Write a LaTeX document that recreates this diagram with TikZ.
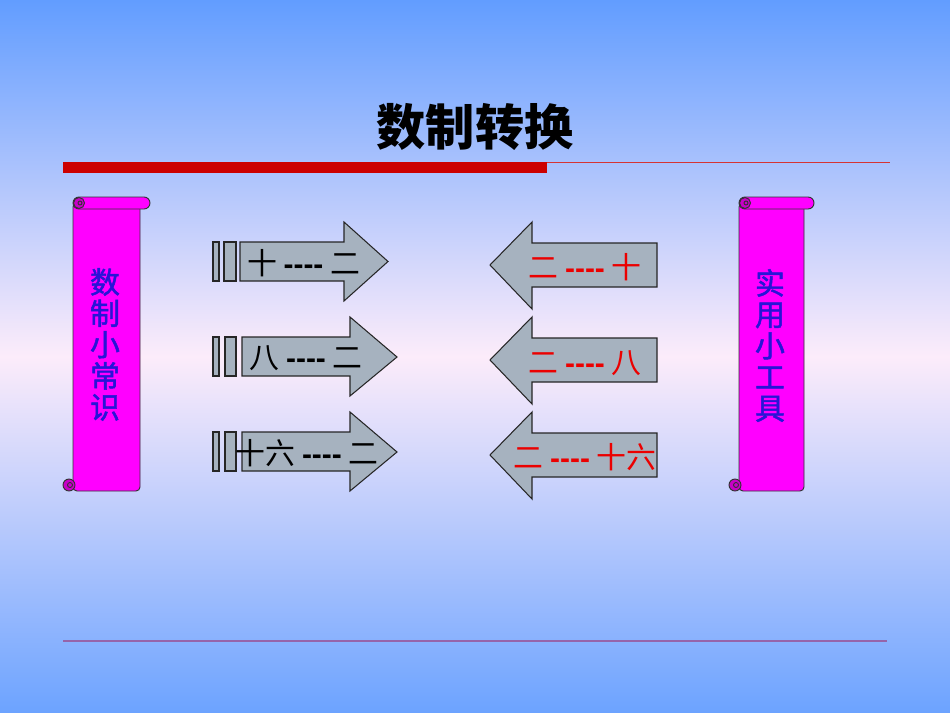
\documentclass[tikz,border=0pt]{standalone}
\usepackage{fontspec}
\newfontfamily\cjk{Noto Sans CJK SC}
\newfontfamily\cjkm{Noto Sans CJK SC}[FakeBold=1.6]
\newfontfamily\lat{Liberation Sans}
\definecolor{bgtop}{RGB}{98,157,255}
\definecolor{bgmid}{RGB}{252,236,250}
\definecolor{bgbot}{RGB}{108,163,255}
\definecolor{arrowgray}{RGB}{166,178,191}
\definecolor{scrollmag}{RGB}{255,0,255}
\definecolor{curlmag}{RGB}{200,0,200}
\definecolor{barred}{RGB}{204,0,0}
\definecolor{scrolltext}{RGB}{40,20,215}
\definecolor{lblred}{RGB}{235,0,0}
\definecolor{bline}{RGB}{150,100,170}
\tikzset{
  arrowst/.style={fill=arrowgray, draw=black!85, line width=0.6pt, line join=miter},
  scrollst/.style={fill=scrollmag, draw=black!80, line width=0.55pt},
  curlst/.style={fill=curlmag, draw=black!80, line width=0.55pt},
  lbl/.style={font=\cjk\fontsize{17}{17}\selectfont, inner sep=0pt},
  vtext/.style={font=\cjkm\fontsize{17}{17.8}\selectfont, text=scrolltext, align=center, inner sep=0pt}
}
\newcommand{\dsh}{{\lat\bfseries ----}}
\begin{document}
\begin{tikzpicture}[x=0.02cm,y=-0.02cm]
\useasboundingbox (0,0) rectangle (950,713);
\shade[top color=bgtop, bottom color=bgbot, middle color=bgmid] (0,0) rectangle (950,713);

% title and rules
\node (title) at (475,127) {\cjk\bfseries\fontsize{28}{28}\selectfont 数制转换};
\fill[barred] (63,162) rectangle (547,173);
\draw[barred!80, line width=0.5pt] (547,162) -- (890,162);
\draw[bline, line width=0.6pt] (63,641) -- (887,641);

% scrolls
\foreach \L/\R in {73/140, 739/804}{
  \filldraw[scrollst, rounded corners=0.08cm] (\L,203) -- (\L,491) -- (\R,491) -- (\R,203) -- cycle;
  \filldraw[scrollst, rounded corners=0.12cm] (\L,197) rectangle (\R+10,209);
  \filldraw[curlst] (\L+6,203) circle[radius=0.11cm];
  \draw[black!80, line width=0.5pt] (\L+7,203) circle[radius=0.04cm];
  \filldraw[curlst] (\L-4,485) circle[radius=0.12cm];
  \draw[black!80, line width=0.5pt] (\L-3,485) circle[radius=0.05cm];
}
\node[vtext] (leftscroll) at (105,344.5) {数\\制\\小\\常\\识};
\node[vtext] (rightscroll) at (770,345.5) {实\\用\\小\\工\\具};

% right-pointing arrows
\filldraw[arrowst] (213,242) rectangle (219,281);
\filldraw[arrowst] (224,242) rectangle (236,281);
\filldraw[arrowst] (240,242) -- (344,242) -- (344,222) -- (388,261.5) -- (344,301) -- (344,281) -- (240,281) -- cycle;
\filldraw[arrowst] (213,337) rectangle (219,376);
\filldraw[arrowst] (225,337) rectangle (236,376);
\filldraw[arrowst] (242,337) -- (350,337) -- (350,317) -- (397,357) -- (350,396) -- (350,376) -- (242,376) -- cycle;
\filldraw[arrowst] (213,432) rectangle (219,471);
\filldraw[arrowst] (225,432) rectangle (236,471);
\filldraw[arrowst] (242,432) -- (350,432) -- (350,412) -- (397,452) -- (350,491) -- (350,471) -- (242,471) -- cycle;

% left-pointing arrows
\filldraw[arrowst] (657,243) -- (532,243) -- (532,222) -- (490,265) -- (532,309) -- (532,287) -- (657,287) -- cycle;
\filldraw[arrowst] (657,338) -- (532,338) -- (532,317) -- (490,360) -- (532,404) -- (532,382) -- (657,382) -- cycle;
\filldraw[arrowst] (657,433) -- (532,433) -- (532,412) -- (490,455) -- (532,499) -- (532,477) -- (657,477) -- cycle;

% labels
\node[lbl] (r1) at (303.5,263) {十 \dsh{} 二};
\node[lbl] (r2) at (306,358) {八 \dsh{} 二};
\node[lbl] (r3) at (307,453) {十六 \dsh{} 二};
\node[lbl, text=lblred] (l1) at (585,267) {二 \dsh{} 十};
\node[lbl, text=lblred] (l2) at (585,363) {二 \dsh{} 八};
\node[lbl, text=lblred] (l3) at (585,457) {二 \dsh{} 十六};
\end{tikzpicture}
\end{document}
